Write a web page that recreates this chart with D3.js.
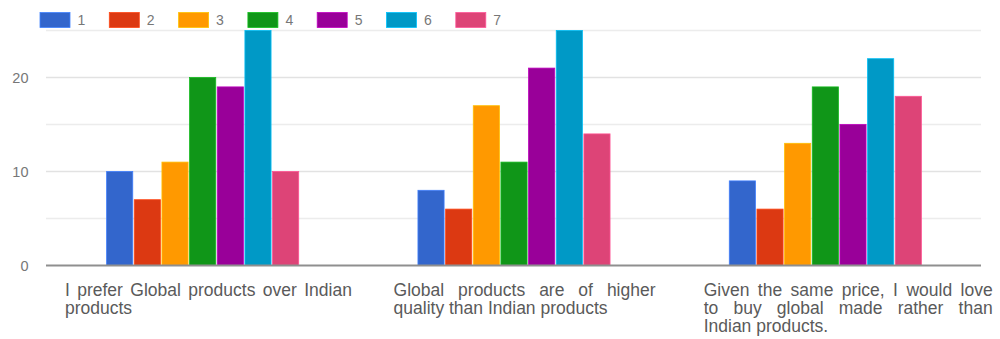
<!DOCTYPE html>
<html>
<head>
<meta charset="utf-8">
<script src="https://cdn.jsdelivr.net/npm/d3@7"></script>
<style>
  html, body { margin: 0; padding: 0; background: #fff; }
  svg { display: block; font-family: "Liberation Sans", Arial, sans-serif; }
</style>
</head>
<body>
<svg id="chart" width="1000" height="339"></svg>
<script>
// ---- data ----
const categories = [
  "I prefer Global products over Indian products",
  "Global products are of higher quality than Indian products",
  "Given the same price, I would love to buy global made rather than Indian products."
];
const categoryLines = [
  ["I prefer Global products over Indian", "products"],
  ["Global products are of higher", "quality than Indian products"],
  ["Given the same price, I would love", "to buy global made rather than", "Indian products."]
];
const seriesNames = ["1", "2", "3", "4", "5", "6", "7"];
const series1 = [10, 8, 9];
const series2 = [7, 6, 6];
const series3 = [11, 17, 13];
const series4 = [20, 11, 19];
const series5 = [19, 21, 15];
const series6 = [25, 25, 22];
const series7 = [10, 14, 18];
const seriesValues = [series1, series2, series3, series4, series5, series6, series7];
const yTicks = [0, 10, 20];
const yMinorTicks = [5, 15, 25];
const colors = ["#3366cc", "#dc3912", "#ff9900", "#109618", "#990099", "#0099c6", "#dd4477"];

// ---- layout ----
const svg = d3.select("#chart");
const plotLeft = 47, plotRight = 981, plotTop = 30.5, plotBottom = 265.5;

const x0 = d3.scaleBand().domain(d3.range(categories.length))
  .range([plotLeft, plotRight]).paddingInner(0.383).paddingOuter(0.1915);
const x1 = d3.scaleBand().domain(d3.range(seriesNames.length))
  .range([0, x0.bandwidth()]).paddingInner(0.055).paddingOuter(0);
const y = d3.scaleLinear().domain([0, 25]).range([plotBottom, plotTop]);

// gridlines
svg.append("g").selectAll("line").data(yMinorTicks).join("line")
  .attr("x1", plotLeft - 1).attr("x2", plotRight)
  .attr("y1", d => y(d)).attr("y2", d => y(d))
  .attr("stroke", "#ececec").attr("stroke-width", 1.3);
svg.append("g").selectAll("line").data(yTicks.filter(d => d !== 0)).join("line")
  .attr("x1", plotLeft - 1).attr("x2", plotRight)
  .attr("y1", d => y(d)).attr("y2", d => y(d))
  .attr("stroke", "#e2e2e2").attr("stroke-width", 1.5);

// y axis labels via d3 axis
const yAxis = svg.append("g").attr("transform", `translate(${plotLeft - 18.5},0)`)
  .call(d3.axisLeft(y).tickValues(yTicks).tickSize(0).tickPadding(0));
yAxis.select(".domain").remove();
yAxis.selectAll("text").attr("fill", "#777").attr("font-size", 14.5)
  .attr("font-family", "'Liberation Sans', Arial, sans-serif");

// bars
const groups = svg.append("g").selectAll("g").data(categories).join("g")
  .attr("transform", (d, i) => `translate(${x0(i)},0)`);
groups.selectAll("rect")
  .data((d, i) => seriesValues.map((s, k) => ({ k, v: s[i] })))
  .join("rect")
  .attr("x", d => x1(d.k))
  .attr("width", x1.bandwidth())
  .attr("y", d => y(d.v))
  .attr("height", d => y(0) - y(d.v))
  .attr("fill", d => colors[d.k])
  .attr("stroke", d => d3.color(colors[d.k]).brighter(0.6))
  .attr("stroke-width", 0.8);

// baseline
svg.append("line").attr("x1", plotLeft - 1).attr("x2", plotRight)
  .attr("y1", y(0)).attr("y2", y(0))
  .attr("stroke", "#8f8f8f").attr("stroke-width", 2);

// legend
const legend = svg.append("g");
const legendItem = legend.selectAll("g").data(seriesNames).join("g")
  .attr("transform", (d, i) => `translate(${40 + i * 69.3},12.5)`);
legendItem.append("rect").attr("width", 30).attr("height", 15)
  .attr("fill", (d, i) => colors[i])
  .attr("stroke", (d, i) => d3.color(colors[i]).brighter(0.7)).attr("stroke-width", 0.8);
legendItem.append("text").attr("x", 37.5).attr("y", 12.8)
  .attr("font-size", 14).attr("fill", "#777").text(d => d);

// category labels (justified lines), positioned relative to each group's band
const labelOffsets = [-41.7, -24.4, -25.6];
const labelWidths = [287, 262, 289];
const baseY = 296, lineGap = 17.8;
categoryLines.forEach((lines, gi) => {
  const left = x0(gi) + labelOffsets[gi];
  const w = labelWidths[gi];
  const g = svg.append("g").attr("fill", "#5a5a5a").attr("font-size", 17.5);
  lines.forEach((line, li) => {
    const yy = baseY + li * lineGap;
    const last = li === lines.length - 1;
    const t = g.append("text").attr("x", left).attr("y", yy).text(line);
    if (!last) {
      const natural = t.node().getComputedTextLength();
      const nGaps = line.split(" ").length - 1;
      if (nGaps > 0 && natural < w) {
        t.attr("word-spacing", (w - natural) / nGaps);
        // fallback if word-spacing isn't applied: stretch spacing instead
        if (Math.abs(t.node().getComputedTextLength() - w) > 3) {
          t.attr("word-spacing", null)
            .attr("textLength", w).attr("lengthAdjust", "spacing");
        }
      }
    }
  });
});
</script>
</body>
</html>
